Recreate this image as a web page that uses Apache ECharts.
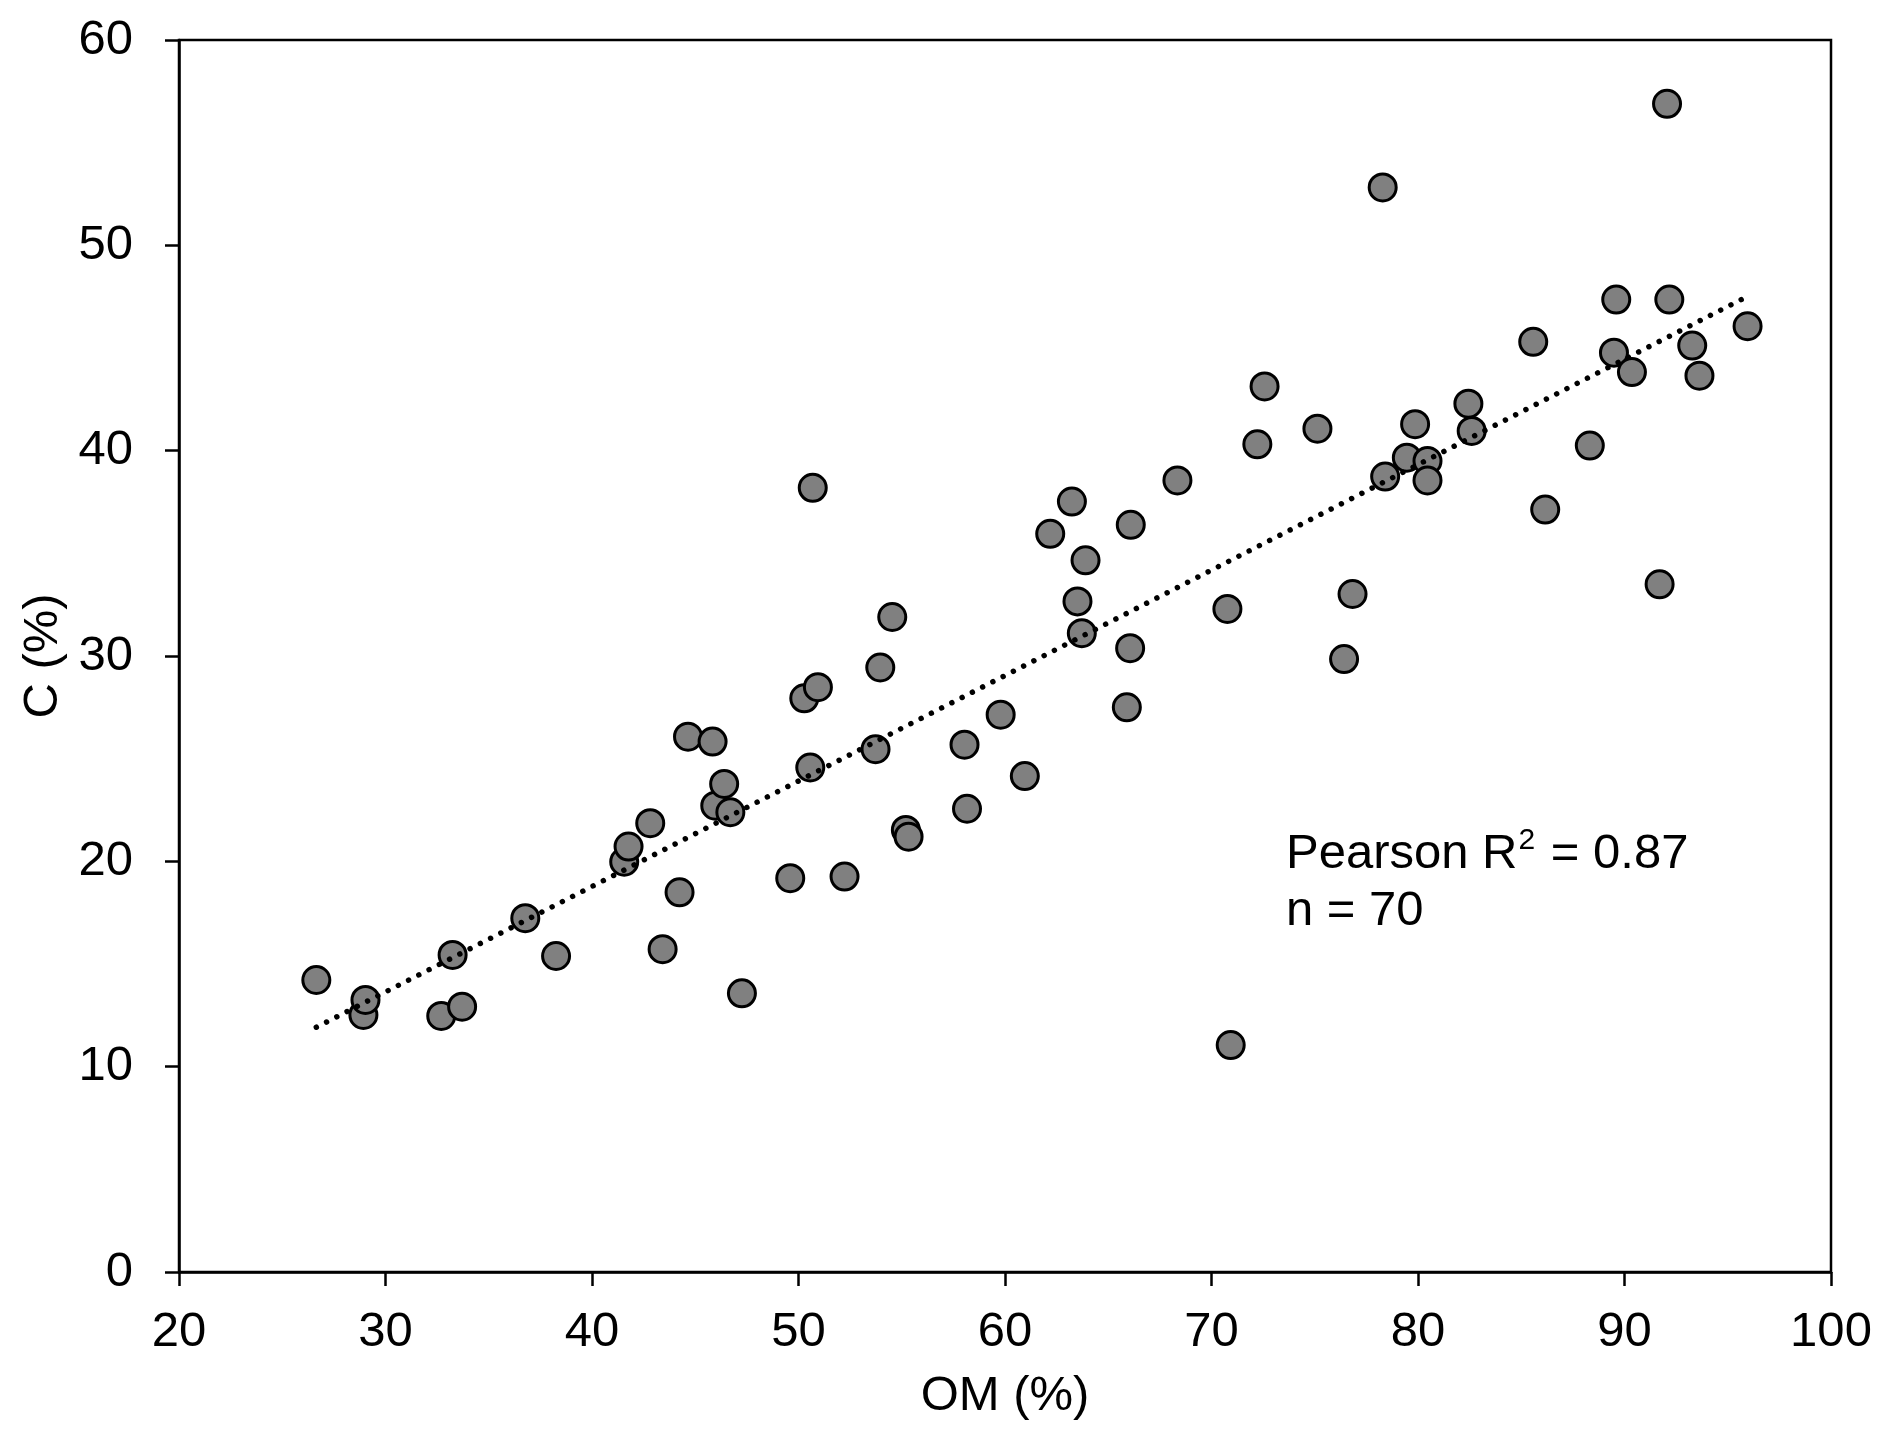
<!DOCTYPE html>
<html>
<head>
<meta charset="utf-8">
<title>C vs OM</title>
<script src="https://cdn.jsdelivr.net/npm/echarts@6/dist/echarts.min.js"></script>
<style>
  html, body { margin: 0; padding: 0; background: #fff; }
  #chart { width: 1892px; height: 1449px; }
</style>
</head>
<body>
<div id="chart"></div>
<script>
// OM (%) values of the 70 samples
var omValues = [
  26.65, 28.93, 29.03, 32.70, 33.71, 33.25, 36.77, 38.26, 41.56, 41.77,
  42.82, 43.42, 44.24, 44.65, 45.84, 45.97, 46.40, 46.70, 47.26, 49.60,
  50.28, 50.57, 50.69, 50.94, 52.23, 53.73, 53.96, 54.54, 55.20, 55.33,
  58.04, 58.16, 59.79, 60.96, 62.19, 63.24, 63.51, 63.90, 63.72, 65.90,
  66.06, 66.09, 68.35, 70.77, 70.93, 72.22, 72.57, 75.13, 76.42, 76.83,
  78.29, 78.41, 79.46, 79.86, 80.46, 80.46, 82.44, 82.60, 85.58, 86.16,
  88.32, 89.49, 89.60, 90.36, 91.70, 92.06, 92.17, 93.28, 93.63, 95.96
];
// C (%) values, same order
var cValues = [
  14.22, 12.52, 13.25, 12.47, 12.92, 15.44, 17.23, 15.39, 19.98, 20.72,
  21.86, 15.72, 18.49, 26.07, 25.83, 22.71, 23.77, 22.39, 13.57, 19.18,
  27.94, 24.57, 38.19, 28.48, 19.26, 25.46, 29.44, 31.90, 21.53, 21.20,
  25.68, 22.56, 27.14, 24.15, 35.95, 37.52, 32.66, 34.66, 31.11, 27.50,
  30.38, 36.39, 38.55, 32.29, 11.05, 40.31, 43.13, 41.07, 29.85, 33.02,
  52.82, 38.74, 39.66, 41.29, 39.50, 38.55, 42.29, 40.96, 45.30, 37.13,
  40.25, 44.77, 47.36, 43.83, 33.49, 56.89, 47.36, 45.12, 43.65, 46.06
];
// ends of the fitted trend line
var trendOM = [26.65, 95.93];
var trendC = [11.92, 47.50];

var xTicks = [20, 30, 40, 50, 60, 70, 80, 90, 100];
var yTicks = [0, 10, 20, 30, 40, 50, 60];
var statsText = ['Pearson R{sup|2} = 0.87', 'n = 70'];

var points = omValues.map(function (om, i) { return [om, cValues[i]]; });
var trend = trendOM.map(function (om, i) { return [om, trendC[i]]; });

var font = '"Liberation Sans", Arial, Helvetica, sans-serif';

var chart = echarts.init(document.getElementById('chart'));

var option = {
  backgroundColor: '#fff',
  animation: false,
  textStyle: { fontFamily: font, color: '#000' },
  grid: {
    left: 179, right: 61, top: 40, bottom: 177,
    show: true, borderColor: '#000', borderWidth: 2.5,
    containLabel: false
  },
  xAxis: {
    type: 'value',
    min: xTicks[0], max: xTicks[xTicks.length - 1], interval: 10,
    name: 'OM (%)',
    nameLocation: 'middle',
    nameGap: 100,
    nameTextStyle: { fontSize: 49, color: '#000', fontFamily: font },
    axisLine: { show: true, lineStyle: { color: '#000', width: 2.5 } },
    axisTick: { show: true, length: 14, lineStyle: { color: '#000', width: 2.5 } },
    axisLabel: { fontSize: 49, color: '#000', margin: 36, fontFamily: font },
    splitLine: { show: false }
  },
  yAxis: {
    type: 'value',
    min: yTicks[0], max: yTicks[yTicks.length - 1], interval: 10,
    name: 'C (%)',
    nameLocation: 'middle',
    nameGap: 104,
    nameTextStyle: { fontSize: 49, color: '#000', fontFamily: font },
    axisLine: { show: true, lineStyle: { color: '#000', width: 2.5 } },
    axisTick: { show: true, length: 14, lineStyle: { color: '#000', width: 2.5 } },
    axisLabel: { fontSize: 49, color: '#000', margin: 46, fontFamily: font },
    splitLine: { show: false }
  },
  graphic: [
    {
      type: 'text',
      left: 1286,
      top: 826,
      style: {
        text: statsText.join('\n'),
        fontSize: 49,
        fontFamily: font,
        fill: '#000',
        lineHeight: 57,
        rich: {
          sup: { fontSize: 30, fontFamily: font, fill: '#000', verticalAlign: 'top', lineHeight: 44, padding: [0, 2, 0, 1] }
        }
      }
    }
  ],
  series: [
    {
      name: 'Samples',
      type: 'scatter',
      data: points,
      symbol: 'circle',
      symbolSize: 27,
      itemStyle: { color: '#808080', borderColor: '#000', borderWidth: 3, opacity: 1 },
      z: 2
    },
    {
      name: 'Trend line',
      type: 'line',
      data: trend,
      showSymbol: false,
      symbol: 'none',
      lineStyle: { color: '#000', width: 5.5, type: [0.01, 11.5], cap: 'round' },
      z: 3
    }
  ]
};

chart.setOption(option);
</script>
</body>
</html>
